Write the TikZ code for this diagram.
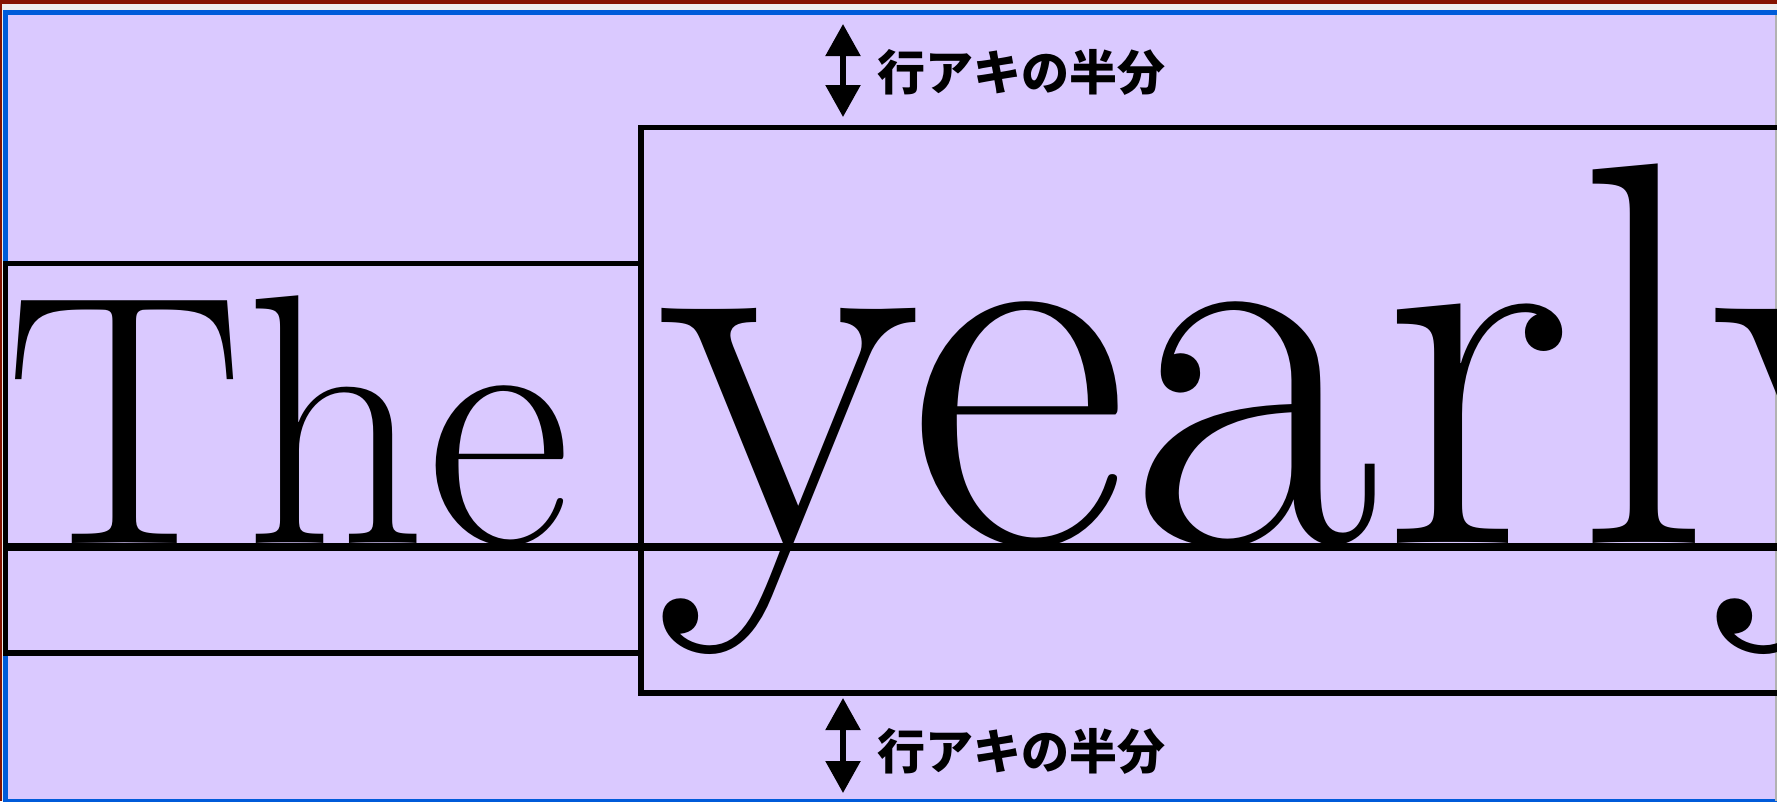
\documentclass[tikz,border=0pt]{standalone}
\usepackage{fontspec}
\newfontfamily\jpfont{Noto Sans CJK JP}
\usetikzlibrary{arrows.meta}
\definecolor{lav}{HTML}{DAC9FF}
\definecolor{frameblue}{HTML}{005BD9}
\definecolor{framered}{HTML}{851300}
\definecolor{paper}{HTML}{EEEEEE}
\tikzset{
  boxline/.style={draw=black, line width=5.3pt},
  midline/.style={draw=black, line width=7.7pt},
  halfarrow/.style={line width=5.5pt, {Triangle[width=34pt,length=32pt]}-{Triangle[width=34pt,length=32pt]}},
  jplabel/.style={inner sep=0pt, anchor=base west, font=\jpfont\bfseries\fontsize{48}{48}\selectfont},
  bigword/.style={inner sep=0pt, anchor=base west}
}
\begin{document}
\begin{tikzpicture}[x=1pt,y=-1pt]
\useasboundingbox (0,0) rectangle (1777,801);
\clip (0,0) rectangle (1777,801);
% page frame
\fill[paper] (0,0) rectangle (1777,801);
\fill[framered] (0,0) rectangle (1777,4);
\fill[framered] (0,0) rectangle (1.7,801);
\fill[frameblue] (3.3,10) rectangle (1800,812);
\fill[lav] (8.3,15) rectangle (1775,798.5);
\fill[gray!60] (1775,15) rectangle (1777,801);
% text
\node[bigword] (the) at (5.5,543) {\fontsize{357}{357}\selectfont The};
\node[bigword] (yearly) at (656,543) {\fontsize{547}{547}\selectfont yearly};
% line boxes
\draw[boxline] (5.8,263.3) rectangle (641,653);
\draw[midline] (5.8,547) -- (641,547);
\draw[boxline] (641,127.3) rectangle (1820,693);
\draw[midline] (641,547) -- (1820,547);
% half-leading markers
\coordinate (t1) at (843,24);
\coordinate (t2) at (843,117);
\coordinate (b1) at (843,698);
\coordinate (b2) at (843,793);
\draw[halfarrow] (t1) -- (t2);
\draw[halfarrow] (b1) -- (b2);
\node[jplabel] (toplabel) at (877.6,90) {行アキの半分};
\node[jplabel] (botlabel) at (877.6,769) {行アキの半分};
\end{tikzpicture}
\end{document}
